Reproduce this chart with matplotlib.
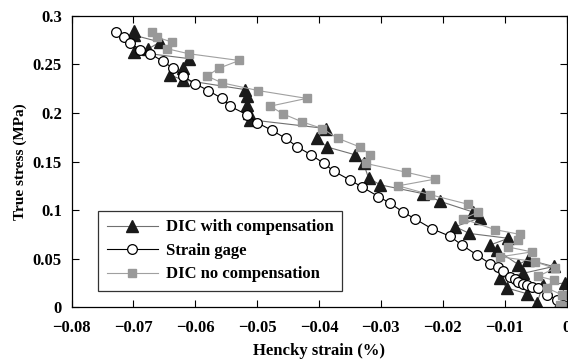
import matplotlib
matplotlib.use('Agg')
import matplotlib.pyplot as plt
from matplotlib.ticker import FuncFormatter

# DIC with compensation (black triangles)
dic_comp_x = [-0.0699, -0.0699, -0.0657, -0.0676, -0.0699, -0.0611, -0.0620, -0.0641, -0.0620,
              -0.0519, -0.0517, -0.0516, -0.0514, -0.0511, -0.0389, -0.0404, -0.0387, -0.0342,
              -0.0328, -0.0320, -0.0301, -0.0232, -0.0204, -0.0151, -0.0140, -0.0180, -0.0157,
              -0.0094, -0.0124, -0.0113, -0.0078, -0.0063, -0.0021, -0.0070, -0.0107, -0.0097,
              -0.0064, -0.0048, -0.0038, -0.0002, -0.0010]
dic_comp_y = [0.284, 0.280, 0.273, 0.266, 0.263, 0.256, 0.246, 0.239, 0.234,
              0.224, 0.217, 0.208, 0.200, 0.193, 0.184, 0.174, 0.165, 0.157,
              0.148, 0.133, 0.126, 0.117, 0.109, 0.098, 0.092, 0.083, 0.076,
              0.071, 0.064, 0.059, 0.044, 0.049, 0.042, 0.035, 0.030, 0.020,
              0.014, 0.004, 0.023, 0.025, 0.005]

# strain gage (open circles)
gage_x = [-0.0728, -0.0716, -0.0705, -0.0689, -0.0673, -0.0652, -0.0636, -0.0620, -0.0600,
          -0.0579, -0.0557, -0.0544, -0.0516, -0.0500, -0.0476, -0.0454, -0.0435, -0.0413,
          -0.0392, -0.0376, -0.0350, -0.0331, -0.0304, -0.0285, -0.0264, -0.0245, -0.0218,
          -0.0188, -0.0169, -0.0145, -0.0124, -0.0110, -0.0102, -0.0091, -0.0084, -0.0078,
          -0.0070, -0.0064, -0.0055, -0.0046, -0.0032, -0.0016, -0.0005]
gage_y = [0.283, 0.278, 0.272, 0.265, 0.261, 0.253, 0.246, 0.238, 0.230,
          0.223, 0.215, 0.207, 0.198, 0.190, 0.182, 0.174, 0.165, 0.157,
          0.148, 0.140, 0.131, 0.124, 0.114, 0.107, 0.098, 0.091, 0.081,
          0.073, 0.064, 0.054, 0.045, 0.041, 0.037, 0.031, 0.029, 0.026,
          0.024, 0.023, 0.021, 0.020, 0.013, 0.008, 0.002]

# DIC no compensation (gray squares)
dic_nocomp_x = [-0.0670, -0.0662, -0.0638, -0.0645, -0.0611, -0.0529, -0.0562, -0.0581, -0.0557,
                -0.0498, -0.0420, -0.0479, -0.0458, -0.0428, -0.0395, -0.0370, -0.0334, -0.0317,
                -0.0324, -0.0259, -0.0212, -0.0272, -0.0221, -0.0159, -0.0143, -0.0167, -0.0116,
                -0.0075, -0.0078, -0.0094, -0.0056, -0.0107, -0.0051, -0.0019, -0.0046, -0.0021,
                -0.0032, -0.0008, -0.0011, 0.0]
dic_nocomp_y = [0.283, 0.278, 0.273, 0.266, 0.261, 0.254, 0.246, 0.238, 0.231,
                0.223, 0.215, 0.207, 0.199, 0.191, 0.184, 0.174, 0.165, 0.157,
                0.148, 0.139, 0.132, 0.125, 0.116, 0.106, 0.098, 0.091, 0.080,
                0.075, 0.069, 0.062, 0.057, 0.052, 0.047, 0.040, 0.032, 0.028,
                0.020, 0.013, 0.002, 0.001]

plt.rcParams['font.family'] = ['Liberation Serif', 'DejaVu Serif']
plt.rcParams['font.weight'] = 'bold'

fig = plt.figure(figsize=(5.68, 3.59), dpi=100)
ax = fig.add_axes([0.126, 0.144, 0.8714, 0.812])

ax.plot(dic_comp_x, dic_comp_y, color='#707070', lw=0.8, marker='^', markersize=8,
        markerfacecolor='#1a1a1a', markeredgecolor='#1a1a1a', label='DIC with compensation')
ax.plot(gage_x, gage_y, color='black', lw=0.8, marker='o', markersize=7,
        markerfacecolor='white', markeredgecolor='black', markeredgewidth=0.9, label='Strain gage')
ax.plot(dic_nocomp_x, dic_nocomp_y, color='#a0a0a0', lw=0.8, marker='s', markersize=6,
        markerfacecolor='#999999', markeredgecolor='#999999', label='DIC no compensation')

ax.set_xlim(-0.08, 0)
ax.set_ylim(0, 0.3)
ax.set_xticks([-0.08, -0.07, -0.06, -0.05, -0.04, -0.03, -0.02, -0.01, 0])
ax.set_yticks([0, 0.05, 0.1, 0.15, 0.2, 0.25, 0.3])
ax.xaxis.set_major_formatter(FuncFormatter(lambda v, p: ('%g' % v).replace('-', '\u2212')))
ax.yaxis.set_major_formatter(FuncFormatter(lambda v, p: '%g' % v))
ax.tick_params(direction='in', top=True, right=True, length=5, width=0.8, labelsize=12)
ax.tick_params(axis='x', pad=9)
ax.tick_params(axis='y', pad=7)
for s in ax.spines.values():
    s.set_linewidth(0.9)

ax.set_xlabel('Hencky strain (%)', fontsize=12, fontweight='bold', labelpad=5)
ax.set_ylabel('True stress (MPa)', fontsize=11, fontweight='bold', labelpad=4)

leg = ax.legend(loc='lower left', bbox_to_anchor=(0.054, 0.057), fontsize=12, frameon=True,
                fancybox=False, edgecolor='black', handlelength=3.1, handletextpad=0.45,
                borderpad=0.5, borderaxespad=0, labelspacing=0.45)
leg.get_frame().set_linewidth(0.9)

fig.savefig('out.png', dpi=100)
